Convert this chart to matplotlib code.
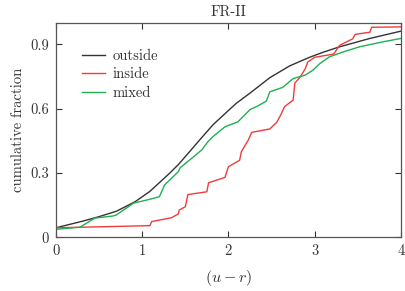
import numpy as np
import matplotlib
matplotlib.use("Agg")
import matplotlib.pyplot as plt

plt.rcParams['font.family'] = ['cmr10', 'DejaVu Serif']
plt.rcParams['mathtext.fontset'] = 'cm'
plt.rcParams['axes.unicode_minus'] = False
plt.rcParams['axes.formatter.use_mathtext'] = True

# outside (smooth)
out_x = [0.0, 0.32, 0.50, 0.70, 0.92, 1.09, 1.32, 1.42, 1.55, 1.70, 1.82, 2.00, 2.09, 2.25,
         2.48, 2.71, 2.94, 3.10, 3.29, 3.64, 4.0]
out_y = [0.045, 0.077, 0.097, 0.122, 0.167, 0.215, 0.300, 0.340, 0.400, 0.470, 0.525, 0.592,
         0.625, 0.673, 0.745, 0.800, 0.840, 0.864, 0.889, 0.928, 0.962]

# inside (step-like)
in_x = [0.0, 1.09, 1.11, 1.34, 1.42, 1.43, 1.50, 1.53, 1.75, 1.77, 1.96, 2.00, 2.13, 2.15,
        2.23, 2.27, 2.48, 2.56, 2.61, 2.65, 2.75, 2.77, 2.83, 2.89, 2.92, 3.00, 3.22, 3.29,
        3.44, 3.47, 3.64, 3.66, 4.0]
in_y = [0.045, 0.055, 0.074, 0.092, 0.11, 0.128, 0.143, 0.200, 0.213, 0.255, 0.280, 0.330,
        0.360, 0.400, 0.454, 0.490, 0.506, 0.537, 0.574, 0.610, 0.640, 0.720, 0.747, 0.786,
        0.818, 0.840, 0.855, 0.896, 0.926, 0.947, 0.957, 0.980, 0.982]

# mixed (step-like)
mix_x = [0.0, 0.28, 0.43, 0.45, 0.66, 0.70, 0.90, 1.09, 1.20, 1.26, 1.32, 1.42, 1.44, 1.59,
         1.69, 1.76, 1.82, 1.96, 2.11, 2.25, 2.34, 2.44, 2.48, 2.63, 2.75, 2.89, 2.98,
         3.06, 3.17, 3.33, 3.52, 3.79, 4.0]
mix_y = [0.038, 0.048, 0.085, 0.090, 0.100, 0.105, 0.160, 0.178, 0.190, 0.245, 0.268, 0.307,
         0.325, 0.374, 0.408, 0.445, 0.470, 0.516, 0.539, 0.596, 0.613, 0.636, 0.679, 0.700,
         0.741, 0.757, 0.780, 0.811, 0.842, 0.865, 0.889, 0.912, 0.928]

fs = 10.5

fig = plt.figure(figsize=(4.05, 2.91), dpi=100)
ax = fig.add_axes([0.138, 0.184, 0.852, 0.737])

ax.plot(out_x, out_y, color='#333333', lw=1.0, label='outside')
ax.plot(in_x, in_y, color='#f03c3c', lw=1.0, label='inside')
ax.plot(mix_x, mix_y, color='#1fb050', lw=1.0, label='mixed')

ax.set_xlim(0, 4)
ax.set_ylim(0, 1.0)
ax.set_xticks([0, 1, 2, 3, 4])
ax.set_xticklabels(['0', '1', '2', '3', '4'])
ax.set_yticks([0, 0.3, 0.6, 0.9])
ax.set_yticklabels(['0', '0.3', '0.6', '0.9'])
ax.tick_params(direction='in', top=True, right=True, length=4, width=0.8,
               labelsize=fs, pad=5, colors='#333333', labelcolor='#333333')
for s in ax.spines.values():
    s.set_color('#555555')
    s.set_linewidth(0.9)

ax.set_xlabel('$(u - r)$', fontsize=11.5, color='#333333', labelpad=7)
ax.set_ylabel('cumulative fraction', fontsize=fs, color='#333333', labelpad=4)
ax.set_title('FR-II', fontsize=fs, color='#333333', pad=5)

leg = ax.legend(loc='upper left', frameon=False, fontsize=fs, handlelength=1.6,
                handletextpad=0.5, labelspacing=0.33, borderaxespad=0,
                bbox_to_anchor=(0.059, 0.905))
for t in leg.get_texts():
    t.set_color('#333333')

fig.savefig('out.png', dpi=100)
